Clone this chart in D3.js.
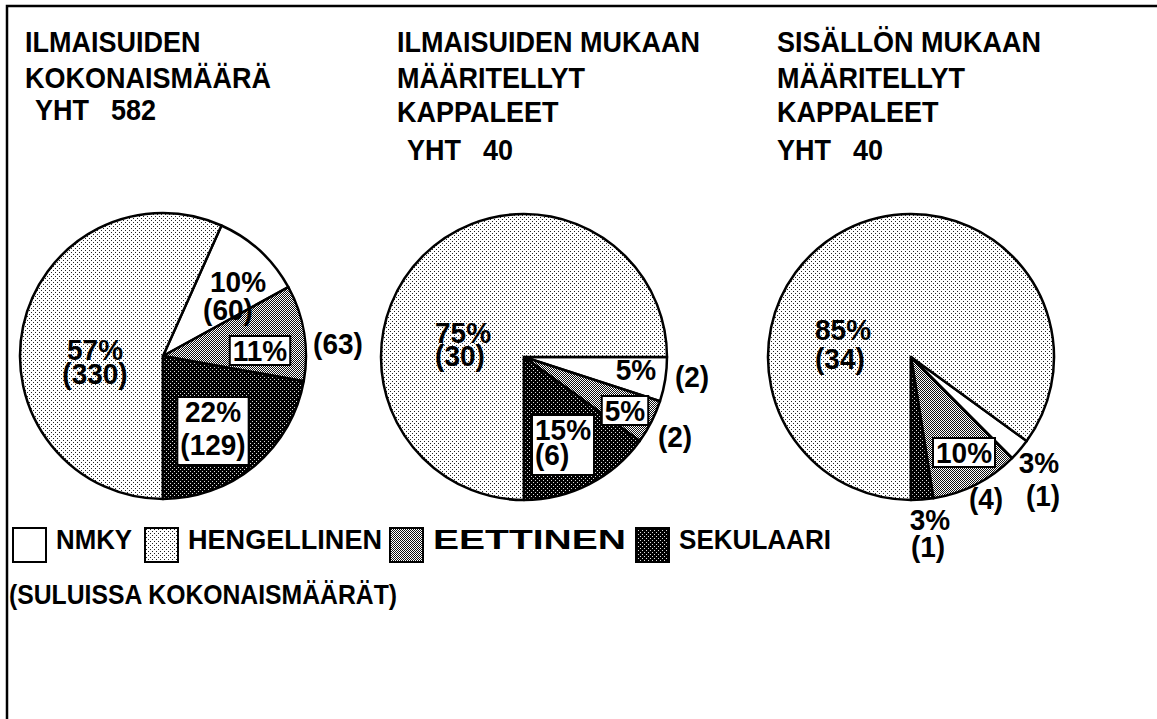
<!DOCTYPE html>
<html>
<head>
  <meta charset="utf-8">
  <script src="https://d3js.org/d3.v7.min.js"></script>
  <style>
    body { margin: 0; background: #fff; }
    text { font-family: "Liberation Sans", Arial, sans-serif; font-weight: bold; fill: #000; }
  </style>
</head>
<body>
  <div id="chart"></div>
  <script>
    // data
    var categories = ["NMKY", "HENGELLINEN", "EETTINEN", "SEKULAARI"];
    var drawOrder = ["SEKULAARI", "EETTINEN", "NMKY", "HENGELLINEN"];
    var titles = [
      ["ILMAISUIDEN", "KOKONAISMÄÄRÄ"],
      ["ILMAISUIDEN MUKAAN", "MÄÄRITELLYT", "KAPPALEET"],
      ["SISÄLLÖN MUKAAN", "MÄÄRITELLYT", "KAPPALEET"]
    ];
    var totals = [582, 40, 40];
    var counts1 = [60, 330, 63, 129];
    var counts2 = [2, 30, 2, 6];
    var counts3 = [1, 34, 4, 1];
    var pct1 = ["10%", "57%", "11%", "22%"];
    var pct2 = ["5%", "75%", "5%", "15%"];
    var pct3 = ["3%", "85%", "10%", "3%"];
    var note = "(SULUISSA KOKONAISMÄÄRÄT)";

    var width = 1157, height = 719;
    var stretch = 1.08; // the original lettering is a bit taller than Arial

    // layout of the three pies and where their labels sit (baseline offsets from pie centre)
    // a: text-anchor, box: 0 none, 1 around percent only, 2 around both lines
    var pies = [
      { cx: 163, cy: 356, counts: counts1, pct: pct1, titleX: 25, totalX: 35, totalY: 120,
        labels: [
          { p: [75, -64], c: [65, -36], a: "middle", box: 0 },
          { p: [-68, 4], c: [-68, 28], a: "middle", box: 0 },
          { p: [97, 5], c: [175, -2], a: "middle", box: 1 },
          { p: [50, 66], c: [50, 99], a: "middle", box: 2 }
        ] },
      { cx: 524, cy: 357, counts: counts2, pct: pct2, titleX: 397, totalX: 407, totalY: 160,
        labels: [
          { p: [112, 23], c: [168, 30], a: "middle", box: 0 },
          { p: [-61, -14], c: [-64, 9], a: "middle", box: 0 },
          { p: [101, 64], c: [151, 90], a: "middle", box: 1 },
          { p: [11, 83], c: [11, 108], a: "start", box: 2 }
        ] },
      { cx: 911, cy: 357, counts: counts3, pct: pct3, titleX: 777, totalX: 777, totalY: 160,
        labels: [
          { p: [128, 116], c: [132, 149], a: "middle", box: 0 },
          { p: [-96, -17], c: [-96, 12], a: "start", box: 0 },
          { p: [53, 106], c: [75, 152], a: "middle", box: 1 },
          { p: [19, 173], c: [17, 200], a: "middle", box: 0 }
        ] }
    ];
    var radius = 143;

    var svg = d3.select("#chart")
      .append("svg")
      .attr("width", width)
      .attr("height", height)
      .style("display", "block");

    svg.append("rect").attr("width", width).attr("height", height).attr("fill", "#fff");

    // fill patterns
    var defs = svg.append("defs");
    var pHeng = defs.append("pattern").attr("id", "p-heng")
      .attr("patternUnits", "userSpaceOnUse").attr("width", 4).attr("height", 4);
    pHeng.append("rect").attr("width", 4).attr("height", 4).attr("fill", "#fff");
    pHeng.append("rect").attr("x", 0).attr("y", 0).attr("width", 1).attr("height", 1).attr("fill", "#222");
    pHeng.append("rect").attr("x", 2).attr("y", 2).attr("width", 1).attr("height", 1).attr("fill", "#222");

    var pEet = defs.append("pattern").attr("id", "p-eet")
      .attr("patternUnits", "userSpaceOnUse").attr("width", 2).attr("height", 2);
    pEet.append("rect").attr("width", 2).attr("height", 2).attr("fill", "#fff");
    pEet.append("rect").attr("x", 0).attr("y", 0).attr("width", 1).attr("height", 1).attr("fill", "#111");
    pEet.append("rect").attr("x", 1).attr("y", 1).attr("width", 1).attr("height", 1).attr("fill", "#111");

    var pSek = defs.append("pattern").attr("id", "p-sek")
      .attr("patternUnits", "userSpaceOnUse").attr("width", 4).attr("height", 4);
    pSek.append("rect").attr("width", 4).attr("height", 4).attr("fill", "#000");
    pSek.append("rect").attr("x", 1).attr("y", 1).attr("width", 1).attr("height", 1).attr("fill", "#ddd");
    pSek.append("rect").attr("x", 3).attr("y", 3).attr("width", 1).attr("height", 1).attr("fill", "#ddd");

    var fill = d3.scaleOrdinal()
      .domain(categories)
      .range(["#fff", "url(#p-heng)", "url(#p-eet)", "url(#p-sek)"]);

    // frame: only left and top edges are visible
    svg.append("path")
      .attr("d", "M7," + height + "V6H" + width)
      .attr("fill", "none")
      .attr("stroke", "#000")
      .attr("stroke-width", 2.5);

    // text with a slight vertical stretch, positioned by its baseline
    function label(parent, x, y, str, size, anchor) {
      return parent.append("text")
        .attr("transform", "translate(" + x + "," + y + ") scale(1," + stretch + ")")
        .attr("text-anchor", anchor || "start")
        .attr("font-size", size)
        .text(str);
    }

    var pie = d3.pie()
      .value(function (d) { return d.value; })
      .sort(function (a, b) { return drawOrder.indexOf(a.cat) - drawOrder.indexOf(b.cat); })
      .startAngle(Math.PI)
      .endAngle(-Math.PI);

    var arc = d3.arc().innerRadius(0).outerRadius(radius);

    pies.forEach(function (p, i) {
      // title
      var lineY = [52, 88, 122];
      titles[i].forEach(function (line, j) {
        label(svg, p.titleX, lineY[j], line, 27);
      });
      label(svg, p.totalX, p.totalY, "YHT", 27);
      label(svg, p.totalX + 76, p.totalY, totals[i], 27);

      var data = categories.map(function (c, k) { return { cat: c, value: p.counts[k], idx: k }; });
      var g = svg.append("g").attr("transform", "translate(" + p.cx + "," + p.cy + ")");

      g.selectAll("path")
        .data(pie(data))
        .enter()
        .append("path")
        .attr("d", arc)
        .attr("fill", function (d) { return fill(d.data.cat); })
        .attr("stroke", "#000")
        .attr("stroke-width", 2.5)
        .attr("stroke-linejoin", "round");

      // labels: percent on top, count in brackets under it
      data.forEach(function (d) {
        var L = p.labels[d.idx];
        var lg = g.append("g");
        var boxG = lg.append("g");
        var tp = label(lg, L.p[0], L.p[1], p.pct[d.idx], 28, L.a);
        var tc = label(lg, L.c[0], L.c[1], "(" + d.value + ")", 28, L.a);
        if (L.box) {
          function span(node, x) {
            var w = node.getComputedTextLength();
            var x0 = L.a === "middle" ? x - w / 2 : x;
            return [x0, x0 + w];
          }
          var s = span(tp.node(), L.p[0]);
          var top = L.p[1] - 25, bottom = L.p[1] + 4;
          if (L.box === 2) {
            var s2 = span(tc.node(), L.c[0]);
            s = [Math.min(s[0], s2[0]), Math.max(s[1], s2[1])];
            bottom = L.c[1] + 10;
          }
          boxG.append("rect")
            .attr("x", s[0] - 3).attr("y", top)
            .attr("width", s[1] - s[0] + 6).attr("height", bottom - top)
            .attr("fill", "#fff").attr("stroke", "#000").attr("stroke-width", 2);
        }
      });
    });

    // legend
    var legendX = [12, 144, 389, 635];
    var legendW = [76, 194, 193, 152];
    var legend = svg.append("g").attr("transform", "translate(0,527)");
    var items = legend.selectAll("g")
      .data(categories)
      .enter()
      .append("g")
      .attr("transform", function (d, k) { return "translate(" + legendX[k] + ",0)"; });
    items.append("rect")
      .attr("x", 1).attr("y", 1).attr("width", 33).attr("height", 34)
      .attr("fill", function (d) { return fill(d); })
      .attr("stroke", "#000").attr("stroke-width", 2);
    items.each(function (d, k) {
      label(d3.select(this), 44, 22, d, 26)
        .attr("textLength", legendW[k])
        .attr("lengthAdjust", "spacingAndGlyphs");
    });

    label(svg, 9, 604, note, 26)
      .attr("textLength", 388)
      .attr("lengthAdjust", "spacingAndGlyphs");
  </script>
</body>
</html>
